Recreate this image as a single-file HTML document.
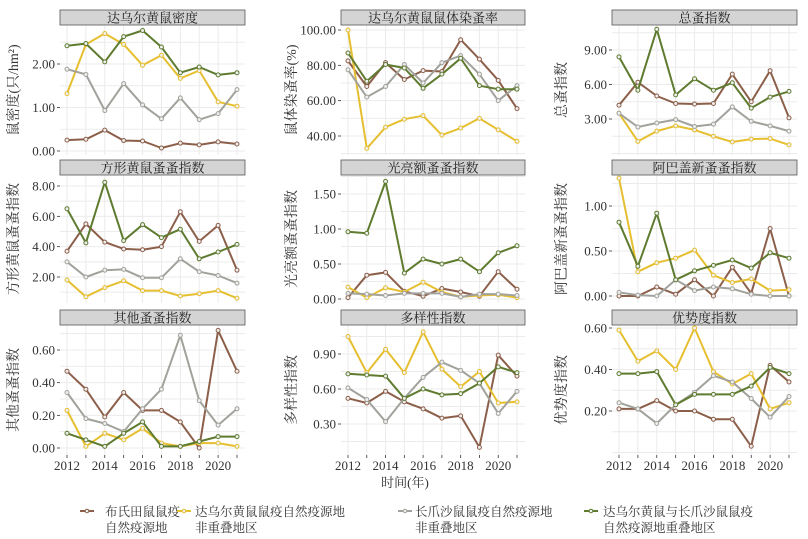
<!DOCTYPE html>
<html><head><meta charset="utf-8">
<style>
body{margin:0;background:#fff;}
svg{display:block;font-family:"Liberation Serif","Noto Serif CJK SC",serif;}
</style></head>
<body>
<svg id="chart" width="808" height="539" xmlns="http://www.w3.org/2000/svg"></svg>
<script>
const years = [2012,2013,2014,2015,2016,2017,2018,2019,2020,2021];
const seriesNames = ["布氏田鼠鼠疫|自然疫源地","达乌尔黄鼠鼠疫自然疫源地|非重叠地区","长爪沙鼠鼠疫自然疫源地|非重叠地区","达乌尔黄鼠与长爪沙鼠鼠疫|自然疫源地重叠地区"];
const panelTitles = ["达乌尔黄鼠密度","达乌尔黄鼠鼠体染蚤率","总蚤指数","方形黄鼠蚤蚤指数","光亮额蚤蚤指数","阿巴盖新蚤蚤指数","其他蚤蚤指数","多样性指数","优势度指数"];
const yTitles = ["鼠密度(只/hm²)","鼠体染蚤率(%)","总蚤指数","方形黄鼠蚤蚤指数","光亮额蚤蚤指数","阿巴盖新蚤蚤指数","其他蚤蚤指数","多样性指数","优势度指数"];
const yTickValues = [[0,1,2],[40,60,80,100],[3,6,9],[2,4,6,8],[0,0.5,1,1.5],[0,0.5,1],[0,0.2,0.4,0.6],[0.3,0.6,0.9],[0.2,0.4,0.6]];
const yTickLabels = [["0.00","1.00","2.00"],["40.00","60.00","80.00","100.00"],["3.00","6.00","9.00"],["2.00","4.00","6.00","8.00"],["0.00","0.50","1.00","1.50"],["0.00","0.50","1.00"],["0.00","0.20","0.40","0.60"],["0.30","0.60","0.90"],["0.20","0.40","0.60"]];
// panel data: brown, yellow, gray, green
const p1 = [[.25,.27,.48,.24,.23,.07,.18,.14,.21,.16],[1.32,2.45,2.70,2.45,1.97,2.20,1.67,1.85,1.13,1.03],[1.88,1.76,.93,1.55,1.06,.74,1.22,.72,.86,1.41],[2.42,2.47,2.05,2.63,2.77,2.39,1.80,1.93,1.75,1.80]];
const p2 = [[82.5,68,81.5,72,77,76.5,94.5,83.5,71.5,55.5],[100,33,45,49.5,51.5,40.5,44.5,50,43.5,37],[77.5,62,68,80.5,70,81.5,85.5,75,60,68.5],[87,71,80.5,78.5,67,75,84,68.5,66.5,66.5]];
const p3 = [[4.2,6.2,5.0,4.35,4.3,4.35,6.9,4.5,7.2,3.1],[3.5,1.05,1.95,2.4,2.05,1.5,1.0,1.25,1.3,0.75],[3.5,2.3,2.65,2.95,2.35,2.55,4.05,2.8,2.4,1.95],[8.4,5.5,10.8,5.1,6.5,5.5,6.15,3.95,4.9,5.4]];
const p4 = [[3.7,5.5,4.3,3.85,3.8,4.0,6.3,4.35,5.4,2.45],[1.8,0.7,1.3,1.75,1.1,1.1,0.75,0.9,1.1,0.6],[3.0,2.0,2.45,2.5,1.95,1.95,3.2,2.35,2.1,1.6],[6.5,4.25,8.25,4.4,5.45,4.6,5.15,3.2,3.65,4.15]];
const p5 = [[.02,.34,.38,.11,.04,.15,.10,.04,.39,.14],[.17,.02,.16,.10,.24,.10,.03,.05,.06,.02],[.08,.07,.05,.08,.08,.08,.03,.07,.07,.05],[.96,.94,1.68,.37,.57,.50,.57,.39,.66,.76]];
const p6 = [[0,0,.10,.02,.18,0,.32,.03,.75,0],[1.31,.27,.37,.42,.51,.23,.15,.19,.06,.07],[.04,.01,0,.18,.06,.10,.08,.02,0,0],[.82,.33,.92,.18,.28,.34,.40,.31,.48,.42]];
const p7 = [[.47,.36,.19,.34,.23,.23,.16,0,.72,.47],[.23,.01,.09,.05,.12,.03,.01,.03,.03,.01],[.34,.18,.15,.10,.24,.36,.69,.29,.14,.24],[.09,.05,.01,.09,.16,.01,.01,.04,.07,.07]];
const p8 = [[.52,.48,.58,.49,.43,.35,.37,.10,.89,.71],[1.05,.74,.94,.74,1.09,.77,.62,.75,.48,.49],[.61,.51,.32,.52,.70,.83,.76,.65,.39,.58],[.73,.72,.71,.52,.60,.55,.56,.65,.79,.74]];
const p9 = [[.21,.21,.25,.20,.20,.16,.16,.03,.42,.34],[.59,.44,.49,.40,.60,.39,.33,.38,.21,.24],[.24,.21,.14,.23,.29,.37,.34,.26,.17,.27],[.38,.38,.39,.23,.28,.28,.28,.32,.41,.38]];
const panelData = [p1,p2,p3,p4,p5,p6,p7,p8,p9];

const colors = ["#8c5f4a","#e6bf30","#a2a29c","#5e7b2f"];
const NS = "http://www.w3.org/2000/svg";
const svg = document.getElementById("chart");
function el(tag, attrs, parent){const e=document.createElementNS(NS,tag);for(const k in attrs)e.setAttribute(k,attrs[k]);(parent||svg).appendChild(e);return e;}

const colL=[60,341,612], colR=[245,525,797];
const rowStrip=[10,160,310], rowTop=[25,175,325], rowBot=[155,303,455];
const calib=[[0,151,2,64],[40,136,100,30],[3,119,9,50],[2,277,8,186],[0,299,1.5,194],[0,296,1,206],[0,448,0.6,350],[0.3,424,0.9,354],[0.2,411,0.6,328]];
const yTitleX=[18,296,566];

for(let p=0;p<9;p++){
  const c=p%3,r=Math.floor(p/3);
  const L=colL[c],R=colR[c],T=rowTop[r],B=rowBot[r];
  const x0=L+7, x1=R-8;
  const xs=v=>x0+(v-2012)*(x1-x0)/9;
  const cb=calib[p];
  const ys=v=>cb[1]+(v-cb[0])*(cb[3]-cb[1])/(cb[2]-cb[0]);
  const g=el("g",{});
  
  
  el("rect",{x:L,y:T,width:R-L,height:B-T,fill:"#fff"},g);
  const tv=yTickValues[p];
  const step=tv[1]-tv[0];
  for(let v=tv[0]-step*1.5;v<=tv[tv.length-1]+step*1.5;v+=step/2){
    const y=ys(v); if(y<T||y>B) continue;
    el("line",{x1:L,x2:R,y1:y,y2:y,stroke:"#ebebeb","stroke-width":1},g);
  }
  for(const yr of years){
    el("line",{x1:xs(yr),x2:xs(yr),y1:T,y2:B,stroke:"#ebebeb","stroke-width":1},g);
  }
  const s=el("rect",{x:L,y:rowStrip[r],width:R-L,height:15,fill:"#d4d4d4",stroke:"#555","stroke-width":0.8},g);
  
  
  const st=el("text",{x:(L+R)/2,y:rowStrip[r]+12.5,"text-anchor":"middle","font-size":13,fill:"#222"},g);
  st.textContent=panelTitles[p];
  
  
  tv.forEach((v,i)=>{
    const y=ys(v);
    el("line",{x1:L-3,x2:L,y1:y,y2:y,stroke:"#333","stroke-width":0.8},g);
    const t=el("text",{x:L-5,y:y+4.5,"text-anchor":"end","font-size":13,fill:"#333"},g);
    t.textContent=yTickLabels[p][i];
    
    
  });
  const yt=el("text",{transform:`translate(${yTitleX[c]},${(T+B)/2}) rotate(-90)`,"text-anchor":"middle","font-size":14,fill:"#333"},g);
  yt.textContent=yTitles[p];
  
  
  if(r===2){
    for(const yr of years){
      el("line",{x1:xs(yr),x2:xs(yr),y1:B,y2:B+3,stroke:"#333","stroke-width":0.8},g);
      if(yr%2===0){
        const t=el("text",{x:xs(yr),y:B+15,"text-anchor":"middle","font-size":13,fill:"#333"},g);
        t.textContent=yr;
        
        
      }
    }
  }
  panelData[p].forEach((vals,si)=>{
    const pts=vals.map((v,i)=>xs(years[i]).toFixed(1)+","+ys(v).toFixed(1)).join(" ");
    const pl=el("polyline",{points:pts,fill:"none",stroke:colors[si],"stroke-width":2,"stroke-linejoin":"round"},g);
    
    
    vals.forEach((v,i)=>{
      const ci=el("circle",{cx:xs(years[i]),cy:ys(v),r:2,fill:"#eee",stroke:colors[si],"stroke-width":1},g);
      
      
    });
  });
}
const xt=el("text",{x:405,y:487,"text-anchor":"middle","font-size":13,fill:"#333"});
xt.textContent="时间(年)";


const keyX=[80,177,398,584], txtX=[105,195,415,603];
seriesNames.forEach((nm,i)=>{
  const g=el("g",{});
  
  
  el("line",{x1:keyX[i],x2:keyX[i]+14,y1:511,y2:511,stroke:colors[i],"stroke-width":2},g);
  el("circle",{cx:keyX[i]+7,cy:511,r:1.8,fill:"#eee",stroke:colors[i],"stroke-width":1},g);
  nm.split("|").forEach((ln,j)=>{
    const t=el("text",{x:txtX[i],y:516+j*16,"font-size":12.5,fill:"#333"},g);
    t.textContent=ln;
  });
});
</script>
</body></html>
